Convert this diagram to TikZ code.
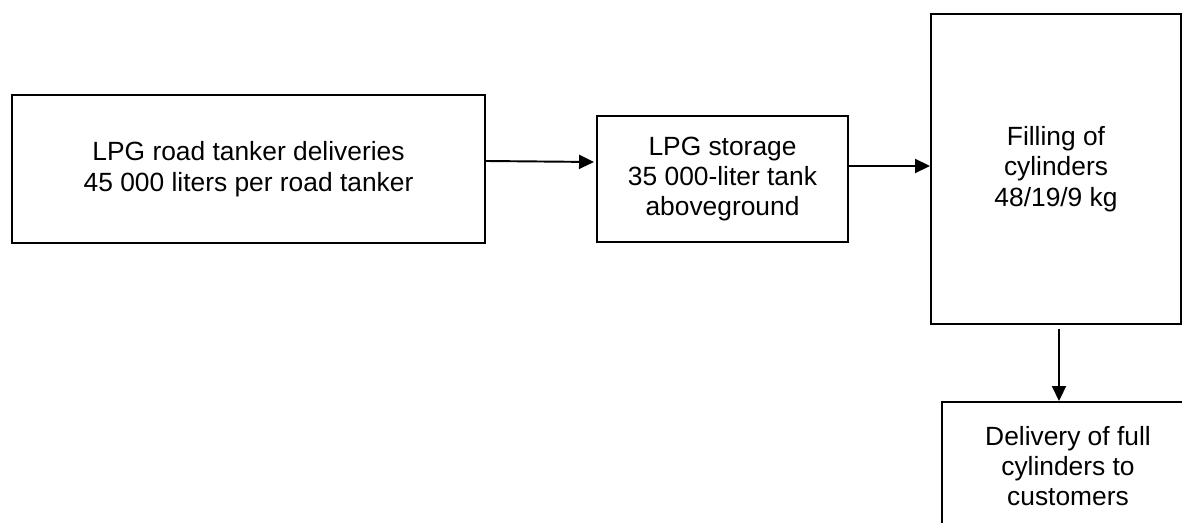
\documentclass[tikz,border=0pt]{standalone}
\usepackage{fontspec}
\setmainfont{Liberation Sans}
\usetikzlibrary{arrows.meta, positioning}

\begin{document}
\begin{tikzpicture}[
    box/.style={rectangle, draw=black, line width=1.1pt, align=center,
                inner sep=0pt, font=\fontsize{15}{17.3}\selectfont},
    arr/.style={-{Triangle[length=0.3cm, width=0.28cm]}, line width=1.1pt, color=black}
  ]
    \useasboundingbox (0,0) rectangle (23.64,-10.46);

    %% Boxes
    \node[box, minimum width=9.46cm, minimum height=2.96cm] (deliv) at (4.97,-3.38)
        {LPG road tanker deliveries\\45 000 liters per road tanker};
    \node[box, minimum width=5.02cm, minimum height=2.52cm] (storage) at (14.45,-3.58)
        {LPG storage\\35 000-liter tank\\aboveground};
    \node[box, minimum width=5.0cm, minimum height=6.2cm] (filling) at (21.12,-3.38)
        {Filling of\\cylinders\\48/19/9 kg};
    \node[box, minimum width=5.04cm, minimum height=2.56cm] (custom) at (21.36,-9.32)
        {Delivery of full\\cylinders to\\customers};

    %% Arrows
    \draw[arr] ([yshift=1.6mm]deliv.east) -- ([yshift=3.4mm, xshift=-0.4mm]storage.west);
    \draw[arr] ([yshift=2.6mm]storage.east) -- ([yshift=0.6mm]filling.west);
    \draw[arr] ([xshift=0.6mm, yshift=-0.8mm]filling.south) -- ([xshift=0.6mm]filling.south |- custom.north);
  \end{tikzpicture}
\end{document}
